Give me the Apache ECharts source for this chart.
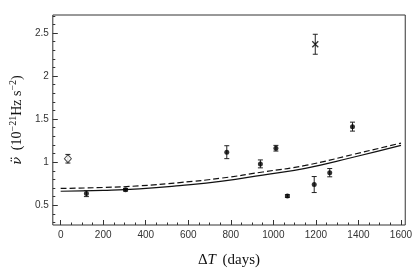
<!DOCTYPE html>
<html>
<head>
<meta charset="utf-8">
<script src="https://cdn.jsdelivr.net/npm/echarts@6/dist/echarts.min.js"></script>
<style>
html,body{margin:0;padding:0;background:#fff;}
#c{width:415px;height:275px;}
</style>
</head>
<body>
<div id="c"></div>
<script>
// ---- data ----
var days = [121, 305, 781, 939, 1012, 1066, 1192, 1265, 1372];
var values = [0.635, 0.68, 1.116, 0.98, 1.162, 0.607, 0.74, 0.878, 1.413];
var errors = [0.035, 0.015, 0.075, 0.046, 0.033, 0.015, 0.093, 0.048, 0.052];

var diamondDay = [34];
var diamondValue = [1.04];
var diamondError = [0.05];

var crossDay = [1197];
var crossValue = [2.37];
var crossError = [0.116];

var curveDays = [0, 200, 370, 560, 760, 950, 1150, 1380, 1600];
var solidFit = [0.662, 0.672, 0.69, 0.728, 0.78, 0.85, 0.928, 1.06, 1.195];
var dashedFit = [0.695, 0.706, 0.725, 0.763, 0.816, 0.886, 0.962, 1.093, 1.222];

var xTicks = [0, 200, 400, 600, 800, 1000, 1200, 1400, 1600];
var xMinor = [];
for (var i = 0; i <= 1600; i += 50) xMinor.push(i);
var yTicks = [0.5, 1, 1.5, 2, 2.5];
var yMinor = [];
for (var j = 3; j <= 27; j++) yMinor.push(j / 10);

function pairs(xs, ys) { return xs.map(function (x, k) { return [x, ys[k]]; }); }
function errData(xs, ys, es) { return xs.map(function (x, k) { return [x, ys[k] - es[k], ys[k] + es[k]]; }); }

var allErr = errData(days, values, errors)
  .concat(errData(diamondDay, diamondValue, diamondError))
  .concat(errData(crossDay, crossValue, crossError));

var chart = echarts.init(document.getElementById('c'), null, { renderer: 'canvas' });

var tickLabel = { fontFamily: 'Liberation Sans', fontSize: 10, color: '#333' };
var plain = function (v) { return String(v); };

var option = {
  animation: false,
  backgroundColor: '#fff',
  grid: { left: 44, right: 8, top: 15, bottom: 50, show: true, borderColor: '#333', borderWidth: 1, backgroundColor: 'transparent' },
  xAxis: [
    {
      type: 'value', min: -37, max: 1620,
      axisLine: { show: false, onZero: false },
      splitLine: { show: false },
      axisTick: { show: true, inside: true, length: 5, lineStyle: { color: '#333' }, customValues: xTicks },
      axisLabel: Object.assign({ customValues: xTicks, margin: 5, formatter: plain }, tickLabel),
      name: '{n|Δ}{i|T}  {n|(days)}',
      nameLocation: 'middle',
      nameGap: 28,
      nameTextStyle: {
        rich: {
          n: { fontFamily: 'Liberation Serif', fontSize: 15, color: '#111' },
          i: { fontFamily: 'Liberation Serif', fontStyle: 'italic', fontSize: 15, color: '#111' }
        }
      }
    },
    {
      type: 'value', min: -37, max: 1620, position: 'bottom',
      axisLine: { show: false, onZero: false }, splitLine: { show: false },
      axisTick: { show: true, inside: true, length: 2.5, lineStyle: { color: '#333' }, customValues: xMinor },
      axisLabel: { show: false }
    }
  ],
  yAxis: [
    {
      type: 'value', min: 0.27, max: 2.71,
      axisLine: { show: false, onZero: false }, splitLine: { show: false },
      axisTick: { show: true, inside: true, length: 5, lineStyle: { color: '#333' }, customValues: yTicks },
      axisLabel: Object.assign({ customValues: yTicks, margin: 4, formatter: plain }, tickLabel),
      name: '{i|ν̈}  {n|(10}{s|−21}{n|Hz s}{s|−2}{n|)}',
      nameLocation: 'middle',
      nameGap: 22,
      nameRotate: 90,
      nameTextStyle: {
        rich: {
          n: { fontFamily: 'Liberation Serif', fontSize: 14, color: '#111', verticalAlign: 'bottom', lineHeight: 18 },
          s: { fontFamily: 'Liberation Serif', fontSize: 10, color: '#111', verticalAlign: 'bottom', lineHeight: 18, padding: [0, 0, 6, 0] },
          i: { fontFamily: 'DejaVu Serif', fontStyle: 'italic', fontSize: 13, color: '#111', verticalAlign: 'bottom', lineHeight: 18 }
        }
      }
    },
    {
      type: 'value', min: 0.27, max: 2.71, position: 'left',
      axisLine: { show: false, onZero: false }, splitLine: { show: false },
      axisTick: { show: true, inside: true, length: 2.5, lineStyle: { color: '#333' }, customValues: yMinor },
      axisLabel: { show: false }
    }
  ],
  series: [
    {
      type: 'line', data: pairs(curveDays, solidFit), smooth: true, symbol: 'none',
      lineStyle: { color: '#111', width: 1.2 }, z: 2
    },
    {
      type: 'line', data: pairs(curveDays, dashedFit), smooth: true, symbol: 'none',
      lineStyle: { color: '#111', width: 1.2, type: [6, 3] }, z: 2
    },
    {
      type: 'custom', data: allErr, z: 3,
      renderItem: function (params, api) {
        var lo = api.coord([api.value(0), api.value(1)]);
        var hi = api.coord([api.value(0), api.value(2)]);
        var w = 2.5;
        var st = { stroke: '#222', lineWidth: 1 };
        return {
          type: 'group', children: [
            { type: 'line', shape: { x1: lo[0], y1: lo[1], x2: hi[0], y2: hi[1] }, style: st },
            { type: 'line', shape: { x1: lo[0] - w, y1: lo[1], x2: lo[0] + w, y2: lo[1] }, style: st },
            { type: 'line', shape: { x1: hi[0] - w, y1: hi[1], x2: hi[0] + w, y2: hi[1] }, style: st }
          ]
        };
      }
    },
    {
      type: 'scatter', data: pairs(days, values), symbol: 'circle', symbolSize: 5,
      itemStyle: { color: '#000' }, z: 4
    },
    {
      type: 'scatter', data: pairs(diamondDay, diamondValue), symbol: 'diamond', symbolSize: [7, 8],
      itemStyle: { color: '#fff', borderColor: '#222', borderWidth: 1 }, z: 4
    },
    {
      type: 'scatter', data: pairs(crossDay, crossValue),
      symbol: 'path://M0,0 L10,10 M10,0 L0,10', symbolSize: 6,
      itemStyle: { color: 'none', borderColor: '#000', borderWidth: 1.3 }, z: 4
    }
  ]
};
chart.setOption(option);
</script>
</body>
</html>
